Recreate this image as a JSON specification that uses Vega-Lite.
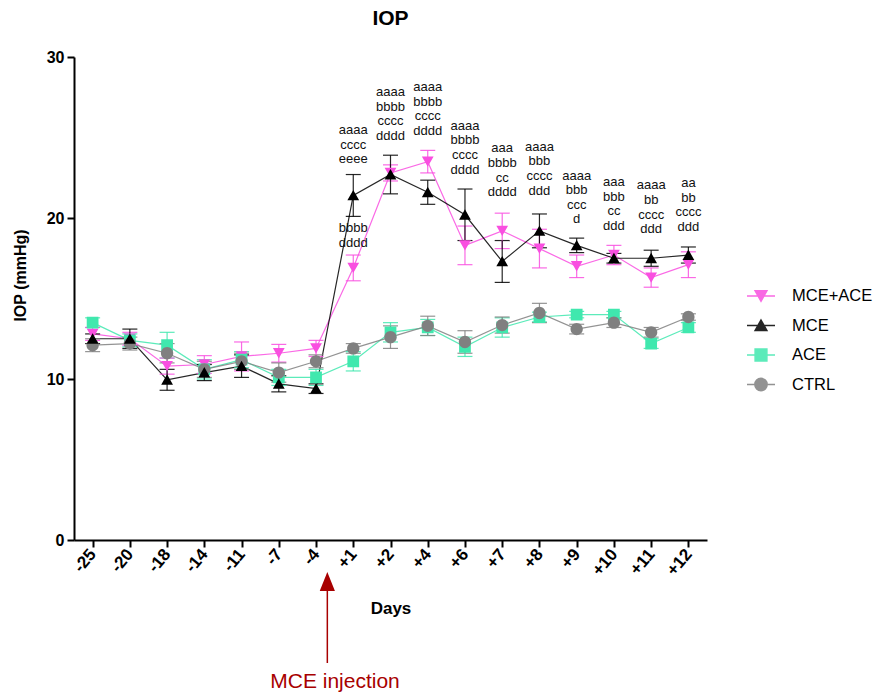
{
  "$schema": "https://vega.github.io/schema/vega-lite/v6.json",
  "width": 633,
  "height": 483,
  "autosize": {"type": "none"},
  "padding": {"left": 74, "top": 57, "right": 168, "bottom": 157},
  "background": "white",
  "title": {"text": "IOP", "fontSize": 21, "fontWeight": "bold", "font": "Liberation Sans", "color": "black", "anchor": "middle", "offset": 20},
  "config": {"view": {"stroke": null}, "font": "Liberation Sans"},
  "datasets": {
    "iop": [
      {"d": "-25", "i": 0, "g": "MCE+ACE", "m": 12.8, "e": 0.4},
      {"d": "-20", "i": 1, "g": "MCE+ACE", "m": 12.5, "e": 0.4},
      {"d": "-18", "i": 2, "g": "MCE+ACE", "m": 10.8, "e": 0.5},
      {"d": "-14", "i": 3, "g": "MCE+ACE", "m": 10.9, "e": 0.55},
      {"d": "-11", "i": 4, "g": "MCE+ACE", "m": 11.4, "e": 0.9},
      {"d": "-7", "i": 5, "g": "MCE+ACE", "m": 11.6, "e": 0.55},
      {"d": "-4", "i": 6, "g": "MCE+ACE", "m": 11.9, "e": 0.5},
      {"d": "+1", "i": 7, "g": "MCE+ACE", "m": 16.9, "e": 0.8},
      {"d": "+2", "i": 8, "g": "MCE+ACE", "m": 22.8, "e": 0.5},
      {"d": "+4", "i": 9, "g": "MCE+ACE", "m": 23.5, "e": 0.7},
      {"d": "+6", "i": 10, "g": "MCE+ACE", "m": 18.3, "e": 1.2},
      {"d": "+7", "i": 11, "g": "MCE+ACE", "m": 19.2, "e": 1.1},
      {"d": "+8", "i": 12, "g": "MCE+ACE", "m": 18.1, "e": 1.2},
      {"d": "+9", "i": 13, "g": "MCE+ACE", "m": 17.0, "e": 0.7},
      {"d": "+10", "i": 14, "g": "MCE+ACE", "m": 17.7, "e": 0.6},
      {"d": "+11", "i": 15, "g": "MCE+ACE", "m": 16.3, "e": 0.6},
      {"d": "+12", "i": 16, "g": "MCE+ACE", "m": 17.1, "e": 0.8},
      {"d": "-25", "i": 0, "g": "ACE", "m": 13.5, "e": 0.3},
      {"d": "-20", "i": 1, "g": "ACE", "m": 12.4, "e": 0.4},
      {"d": "-18", "i": 2, "g": "ACE", "m": 12.1, "e": 0.8},
      {"d": "-14", "i": 3, "g": "ACE", "m": 10.6, "e": 0.6},
      {"d": "-11", "i": 4, "g": "ACE", "m": 11.2, "e": 0.5},
      {"d": "-7", "i": 5, "g": "ACE", "m": 10.1, "e": 0.5},
      {"d": "-4", "i": 6, "g": "ACE", "m": 10.1, "e": 0.5},
      {"d": "+1", "i": 7, "g": "ACE", "m": 11.1, "e": 0.6},
      {"d": "+2", "i": 8, "g": "ACE", "m": 12.9, "e": 0.6},
      {"d": "+4", "i": 9, "g": "ACE", "m": 13.2, "e": 0.5},
      {"d": "+6", "i": 10, "g": "ACE", "m": 12.0, "e": 0.6},
      {"d": "+7", "i": 11, "g": "ACE", "m": 13.2, "e": 0.6},
      {"d": "+8", "i": 12, "g": "ACE", "m": 13.85, "e": 0.3},
      {"d": "+9", "i": 13, "g": "ACE", "m": 14.0, "e": 0.2},
      {"d": "+10", "i": 14, "g": "ACE", "m": 14.0, "e": 0.2},
      {"d": "+11", "i": 15, "g": "ACE", "m": 12.2, "e": 0.3},
      {"d": "+12", "i": 16, "g": "ACE", "m": 13.2, "e": 0.3},
      {"d": "-25", "i": 0, "g": "CTRL", "m": 12.1, "e": 0.4},
      {"d": "-20", "i": 1, "g": "CTRL", "m": 12.2, "e": 0.4},
      {"d": "-18", "i": 2, "g": "CTRL", "m": 11.6, "e": 0.6},
      {"d": "-14", "i": 3, "g": "CTRL", "m": 10.6, "e": 0.5},
      {"d": "-11", "i": 4, "g": "CTRL", "m": 11.1, "e": 0.5},
      {"d": "-7", "i": 5, "g": "CTRL", "m": 10.4, "e": 0.6},
      {"d": "-4", "i": 6, "g": "CTRL", "m": 11.1, "e": 0.4},
      {"d": "+1", "i": 7, "g": "CTRL", "m": 11.9, "e": 0.3},
      {"d": "+2", "i": 8, "g": "CTRL", "m": 12.6, "e": 0.7},
      {"d": "+4", "i": 9, "g": "CTRL", "m": 13.3, "e": 0.6},
      {"d": "+6", "i": 10, "g": "CTRL", "m": 12.3, "e": 0.7},
      {"d": "+7", "i": 11, "g": "CTRL", "m": 13.35, "e": 0.5},
      {"d": "+8", "i": 12, "g": "CTRL", "m": 14.1, "e": 0.6},
      {"d": "+9", "i": 13, "g": "CTRL", "m": 13.1, "e": 0.3},
      {"d": "+10", "i": 14, "g": "CTRL", "m": 13.5, "e": 0.3},
      {"d": "+11", "i": 15, "g": "CTRL", "m": 12.9, "e": 0.3},
      {"d": "+12", "i": 16, "g": "CTRL", "m": 13.85, "e": 0.2},
      {"d": "-25", "i": 0, "g": "MCE", "m": 12.5, "e": 0.3},
      {"d": "-20", "i": 1, "g": "MCE", "m": 12.5, "e": 0.6},
      {"d": "-18", "i": 2, "g": "MCE", "m": 9.95, "e": 0.65},
      {"d": "-14", "i": 3, "g": "MCE", "m": 10.4, "e": 0.5},
      {"d": "-11", "i": 4, "g": "MCE", "m": 10.8, "e": 0.7},
      {"d": "-7", "i": 5, "g": "MCE", "m": 9.7, "e": 0.5},
      {"d": "-4", "i": 6, "g": "MCE", "m": 9.4, "e": 0.3},
      {"d": "+1", "i": 7, "g": "MCE", "m": 21.4, "e": 1.3},
      {"d": "+2", "i": 8, "g": "MCE", "m": 22.7, "e": 1.2},
      {"d": "+4", "i": 9, "g": "MCE", "m": 21.6, "e": 0.75},
      {"d": "+6", "i": 10, "g": "MCE", "m": 20.2, "e": 1.6},
      {"d": "+7", "i": 11, "g": "MCE", "m": 17.3, "e": 1.3},
      {"d": "+8", "i": 12, "g": "MCE", "m": 19.2, "e": 1.05},
      {"d": "+9", "i": 13, "g": "MCE", "m": 18.3, "e": 0.45},
      {"d": "+10", "i": 14, "g": "MCE", "m": 17.5, "e": 0.3},
      {"d": "+11", "i": 15, "g": "MCE", "m": 17.5, "e": 0.5},
      {"d": "+12", "i": 16, "g": "MCE", "m": 17.7, "e": 0.5}
    ],
    "notes": [
      {"d": "+1", "y": 25.84, "t": "aaaa\ncccc\neeee"},
      {"d": "+1", "y": 19.75, "t": "bbbb\ndddd"},
      {"d": "+2", "y": 28.2, "t": "aaaa\nbbbb\ncccc\ndddd"},
      {"d": "+4", "y": 28.5, "t": "aaaa\nbbbb\ncccc\ndddd"},
      {"d": "+6", "y": 26.1, "t": "aaaa\nbbbb\ncccc\ndddd"},
      {"d": "+7", "y": 24.7, "t": "aaa\nbbbb\ncc\ndddd"},
      {"d": "+8", "y": 24.8, "t": "aaaa\nbbb\ncccc\nddd"},
      {"d": "+9", "y": 23.0, "t": "aaaa\nbbb\nccc\nd"},
      {"d": "+10", "y": 22.6, "t": "aaa\nbbb\ncc\nddd"},
      {"d": "+11", "y": 22.4, "t": "aaaa\nbb\ncccc\nddd"},
      {"d": "+12", "y": 22.55, "t": "aa\nbb\ncccc\nddd"}
    ],
    "arrow": [
      {"d": "-4", "tip": -2.58, "y1": -3.1, "y2": -7.64, "ty": -8.82, "label": "MCE injection"}
    ]
  },
  "encoding": {
    "x": {
      "field": "d", "type": "nominal",
      "sort": ["-25","-20","-18","-14","-11","-7","-4","+1","+2","+4","+6","+7","+8","+9","+10","+11","+12"],
      "scale": {"type": "point", "padding": 0.5},
      "axis": {
        "title": "Days", "titleFont": "Liberation Sans", "titleFontSize": 17, "titleFontWeight": "bold", "titleColor": "black",
        "titleY": 68, "titleBaseline": "middle",
        "labelFont": "Liberation Sans", "labelFontSize": 17, "labelFontWeight": "bold", "labelColor": "black",
        "labelAngle": -50, "labelAlign": "right", "labelBaseline": "middle", "labelPadding": 4,
        "domainColor": "black", "domainWidth": 2, "tickColor": "black", "tickWidth": 2, "tickSize": 7, "grid": false
      }
    }
  },
  "layer": [
    {
      "data": {"name": "iop"},
      "mark": {"type": "line", "strokeWidth": 1.2, "opacity": 0.85},
      "encoding": {
        "y": {"field": "m", "type": "quantitative", "title": "IOP (mmHg)"},
        "color": {"field": "g", "type": "nominal"},
        "order": {"field": "i", "type": "quantitative"}
      }
    },
    {
      "data": {"name": "iop"},
      "mark": {"type": "errorbar", "ticks": true, "size": 15, "thickness": 1.2, "opacity": 0.85},
      "encoding": {
        "y": {"field": "m", "type": "quantitative", "title": "IOP (mmHg)"},
        "yError": {"field": "e"},
        "color": {"field": "g", "type": "nominal"}
      }
    },
    {
      "data": {"name": "iop"},
      "mark": {"type": "point", "filled": true, "opacity": 1, "size": 784, "strokeWidth": 0},
      "encoding": {
        "y": {
          "field": "m", "type": "quantitative",
          "scale": {"domain": [0, 30], "nice": false, "zero": true},
          "axis": {
            "title": "IOP (mmHg)", "values": [0, 10, 20, 30],
            "titleFont": "Liberation Sans", "titleFontSize": 16, "titleFontWeight": "bold", "titleColor": "black",
            "titleX": -54, "titleY": 218, "titleBaseline": "middle", "titleAngle": -90,
            "labelFont": "Liberation Sans", "labelFontSize": 16, "labelFontWeight": "bold", "labelColor": "black", "labelPadding": 3,
            "domainColor": "black", "domainWidth": 2, "tickColor": "black", "tickWidth": 2, "tickSize": 7, "grid": false
          }
        },
        "color": {
          "field": "g", "type": "nominal",
          "scale": {"domain": ["MCE+ACE", "MCE", "ACE", "CTRL"], "range": ["#F94FE0", "#000000", "#40E8AE", "#808080"]},
          "legend": {
            "title": null, "orient": "none", "legendX": 672, "legendY": 224, "padding": 0,
            "symbolSize": 784, "rowPadding": 5.5, "labelOffset": 16,
            "labelFont": "Liberation Sans", "labelFontSize": 16.5, "labelColor": "black",
            "encode": {"symbols": {"update": {"stroke": {"scale": "color", "field": "value"}, "strokeWidth": {"value": 1.3}, "fill": {"scale": "color", "field": "value"}, "opacity": {"value": 1}}}}
          }
        },
        "shape": {
          "field": "g", "type": "nominal",
          "scale": {"domain": ["MCE+ACE", "MCE", "ACE", "CTRL"], "range": [
            "M-1,0H1M-0.42,-0.37L0.42,-0.37L0,0.37Z",
            "M-1,0H1M0,-0.39L0.42,0.35L-0.42,0.35Z",
            "M-1,0H1M-0.42,-0.42H0.42V0.42H-0.42Z",
            "M-1,0H1M0.44,0A0.44,0.44,0,1,1,-0.44,0A0.44,0.44,0,1,1,0.44,0Z"
          ]},
          "legend": {
            "title": null, "orient": "none", "legendX": 672, "legendY": 224, "padding": 0,
            "symbolSize": 784, "rowPadding": 5.5, "labelOffset": 16,
            "labelFont": "Liberation Sans", "labelFontSize": 16.5, "labelColor": "black",
            "encode": {"symbols": {"update": {"stroke": {"scale": "color", "field": "value"}, "strokeWidth": {"value": 1.3}, "fill": {"scale": "color", "field": "value"}, "opacity": {"value": 1}}}}
          }
        }
      }
    },
    {
      "data": {"name": "notes"},
      "mark": {"type": "text", "font": "Liberation Sans", "fontSize": 13, "color": "#111111", "baseline": "top", "align": "center", "lineBreak": "\n", "lineHeight": 14.6},
      "encoding": {
        "y": {"field": "y", "type": "quantitative"},
        "text": {"field": "t", "type": "nominal"}
      }
    },
    {
      "data": {"name": "arrow"},
      "mark": {"type": "rule", "color": "#A80000", "strokeWidth": 1.5, "xOffset": 11.3},
      "encoding": {
        "y": {"field": "y1", "type": "quantitative"},
        "y2": {"field": "y2"}
      }
    },
    {
      "data": {"name": "arrow"},
      "mark": {"type": "point", "shape": "M0,-1L0.8,1L-0.8,1Z", "size": 361, "filled": true, "color": "#A80000", "opacity": 1, "strokeWidth": 0, "xOffset": 11.3},
      "encoding": {
        "y": {"field": "tip", "type": "quantitative"}
      }
    },
    {
      "data": {"name": "arrow"},
      "mark": {"type": "text", "font": "Liberation Sans", "fontSize": 21, "color": "#A80000", "baseline": "middle", "align": "center", "xOffset": 19},
      "encoding": {
        "y": {"field": "ty", "type": "quantitative"},
        "text": {"field": "label", "type": "nominal"}
      }
    }
  ]
}
